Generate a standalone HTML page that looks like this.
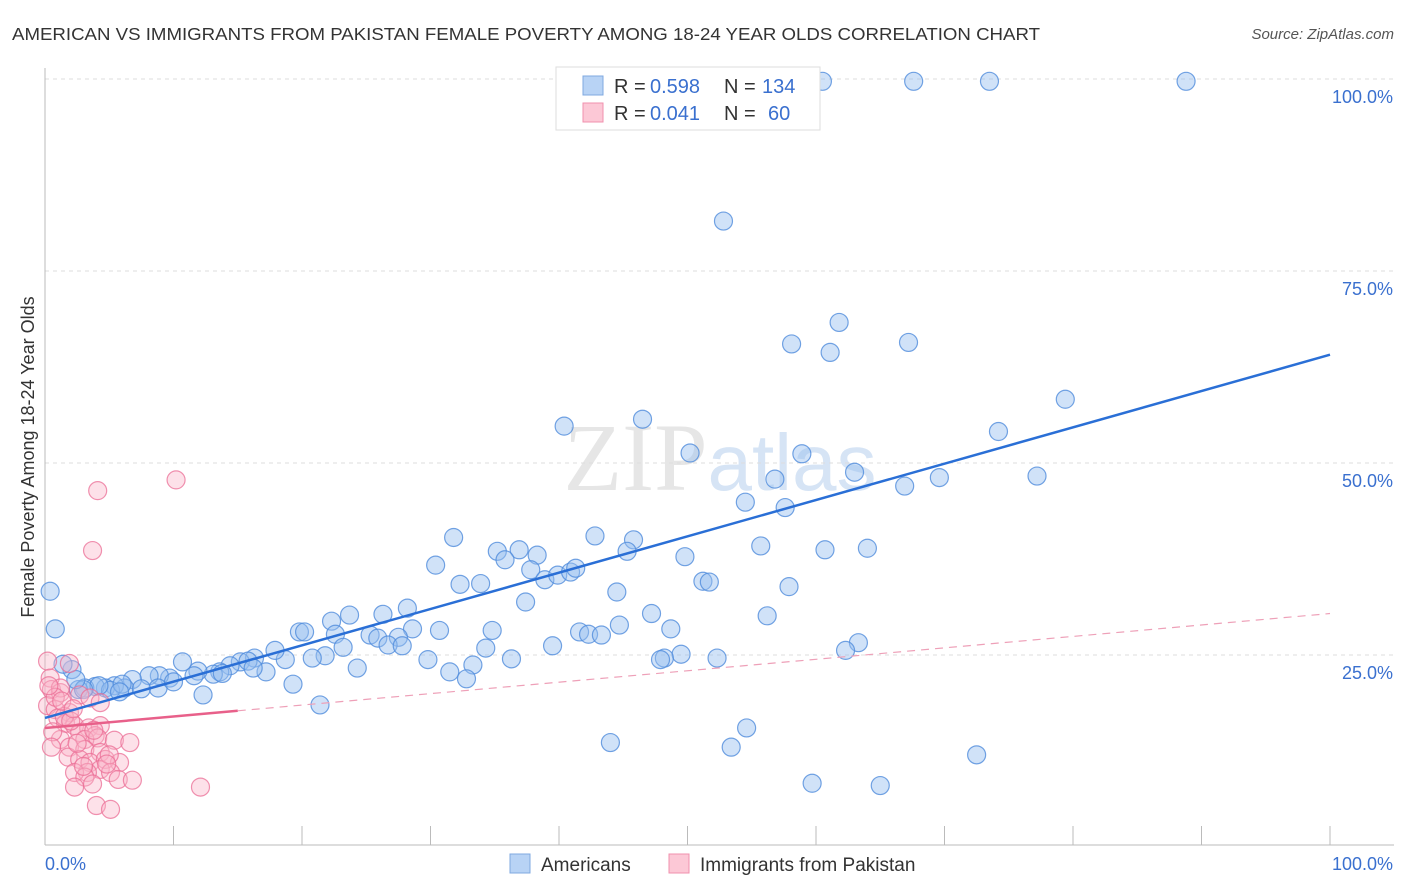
<!DOCTYPE html>
<html><head><meta charset="utf-8"><style>
body{margin:0;background:#fff;font-family:"Liberation Sans",sans-serif}
</style></head><body>
<svg id="chart" width="1406" height="892" xmlns="http://www.w3.org/2000/svg" style="display:block;font-family:'Liberation Sans',sans-serif">
<text x="12" y="40" font-size="17.5" fill="#333" textLength="1028" lengthAdjust="spacingAndGlyphs">AMERICAN VS IMMIGRANTS FROM PAKISTAN FEMALE POVERTY AMONG 18-24 YEAR OLDS CORRELATION CHART</text>
<text x="1394" y="39" font-size="15" fill="#555" font-style="italic" text-anchor="end">Source: ZipAtlas.com</text>
<text x="720" y="490" font-size="96" fill="#e6e6e6" text-anchor="middle" font-family="Liberation Serif">ZIP<tspan fill="#d6e4f5" font-family="Liberation Sans" font-size="80">atlas</tspan></text>
<g id="grid"></g><g id="axes"></g><g id="pts"></g><g id="lines"></g>
<text transform="translate(34,457) rotate(-90)" font-size="18" fill="#333" text-anchor="middle">Female Poverty Among 18-24 Year Olds</text>
<g>
<rect x="556" y="67" width="264" height="63" fill="#fff" stroke="#ddd"/>
<rect x="583" y="76" width="20" height="19" fill="#b8d3f5" stroke="#7fa8e0"/>
<rect x="583" y="103" width="20" height="19" fill="#fcc8d6" stroke="#f090ae"/>
<text x="614" y="93" font-size="20" fill="#333">R =</text><text x="650" y="93" font-size="20" fill="#3a70cf">0.598</text>
<text x="724" y="93" font-size="20" fill="#333">N =</text><text x="762" y="93" font-size="20" fill="#3a70cf">134</text>
<text x="614" y="120" font-size="20" fill="#333">R =</text><text x="650" y="120" font-size="20" fill="#3a70cf">0.041</text>
<text x="724" y="120" font-size="20" fill="#333">N =</text><text x="768" y="120" font-size="20" fill="#3a70cf">60</text>
</g>
<g>
<rect x="510" y="854" width="20" height="19" fill="#b8d3f5" stroke="#7fa8e0"/>
<text x="541" y="871" font-size="19" fill="#333">Americans</text>
<rect x="669" y="854" width="20" height="19" fill="#fcc8d6" stroke="#f090ae"/>
<text x="700" y="871" font-size="19" fill="#333">Immigrants from Pakistan</text>
</g>
</svg>
<script>
const yTicks=[25,50,75,100];
const yTickLabels=["25.0%","50.0%","75.0%","100.0%"];
const blueX=[60.5,67.6,73.5,88.8,52.8,61.8,58.1,61.1,67.2,79.4,74.2,40.4,46.5,50.2,58.9,56.8,63.0,66.9,69.6,77.2,54.5,57.6,31.8,42.8,45.8,35.2,36.9,38.3,45.3,49.8,55.7,60.7,64.0,30.4,35.8,37.8,38.9,39.9,40.9,41.3,32.3,33.9,51.2,51.7,57.9,44.5,37.4,28.2,26.3,23.7,22.3,47.2,56.2,44.7,48.7,34.8,30.7,28.6,19.8,20.2,22.6,25.3,25.9,27.5,26.7,27.8,41.6,42.3,43.3,39.5,34.3,63.3,62.3,49.5,48.2,47.9,52.3,36.3,29.8,33.3,31.5,32.8,24.3,23.2,21.8,20.8,18.7,17.9,16.3,15.2,14.4,15.8,17.2,16.2,13.6,13.1,11.9,10.7,11.6,9.7,8.9,8.1,6.8,8.8,6.2,5.4,4.7,3.9,3.1,2.6,2.1,1.4,12.3,19.3,21.4,0.8,0.4,44.0,54.6,53.4,72.5,59.7,65.0,13.8,5.1,4.2,3.0,6.0,7.5,10.0,2.4,5.8];
const blueY=[99.7,99.7,99.7,99.7,81.5,68.3,65.5,64.4,65.7,58.3,54.1,54.8,55.7,51.3,51.2,47.9,48.8,47.0,48.1,48.3,44.9,44.2,40.3,40.5,40.0,38.5,38.7,38.0,38.5,37.8,39.2,38.7,38.9,36.7,37.4,36.1,34.8,35.4,35.8,36.3,34.2,34.3,34.6,34.5,33.9,33.2,31.9,31.1,30.3,30.2,29.4,30.4,30.1,28.9,28.4,28.2,28.2,28.4,28.0,28.0,27.7,27.6,27.2,27.3,26.3,26.2,28.0,27.7,27.6,26.2,25.9,26.6,25.6,25.1,24.6,24.4,24.6,24.5,24.4,23.7,22.8,21.9,23.3,26.0,24.9,24.6,24.4,25.6,24.6,24.1,23.6,24.2,22.8,23.3,22.8,22.5,22.9,24.1,22.3,22.0,22.3,22.3,21.8,20.7,20.7,21.0,20.7,20.9,20.7,20.5,23.1,23.8,19.8,21.2,18.5,28.4,33.3,13.6,15.5,13.0,12.0,8.3,8.0,22.6,20.4,21.0,20.5,21.2,20.6,21.5,21.8,20.2];
const pinkX=[4.1,10.2,3.7,0.2,1.9,0.4,0.5,1.2,2.7,0.2,0.8,1.9,1.0,1.6,2.3,3.4,4.3,2.7,3.9,1.2,3.1,4.1,5.4,1.9,3.1,4.3,1.8,2.7,3.5,4.7,5.8,4.3,3.3,5.1,2.3,3.1,5.7,6.8,2.3,3.7,4.0,5.1,12.1,6.6,1.2,3.5,4.3,0.8,0.3,1.5,2.0,5.0,3.0,0.6,2.5,4.8,1.3,3.8,0.5,2.2];
const pinkY=[46.4,47.8,38.6,24.2,23.9,22.0,20.5,20.1,19.8,18.4,17.9,17.5,16.8,16.1,15.8,15.5,15.8,14.9,14.5,14.0,14.0,14.2,13.9,13.0,12.7,12.3,11.7,11.4,11.0,11.4,11.0,10.1,9.7,9.7,9.7,9.1,8.8,8.7,7.8,8.2,5.4,4.9,7.8,13.6,20.7,19.4,18.8,19.5,21.0,17.0,16.4,12.0,10.5,15.0,13.5,10.8,19.0,15.2,13.0,18.0];
const blueTrend=[16.8,64.1];
const pinkTrend=[15.5,30.4];
const pinkSolidEnd=15;
const NS="http://www.w3.org/2000/svg";
const X0=45,X1=1330,Y0=847,Y100=79;
const sx=v=>X0+(X1-X0)*v/100, sy=v=>Y0-(Y0-Y100)*v/100;
function mk(t,a,p){const e=document.createElementNS(NS,t);for(const k in a)e.setAttribute(k,a[k]);document.getElementById(p).appendChild(e);return e;}
yTicks.forEach((t,i)=>{
 const g=mk('line',{x1:45,x2:1394,y1:sy(t),y2:sy(t),stroke:'#ddd','stroke-dasharray':'4,4'},'grid');
 
 
 const l=mk('text',{x:1393,y:sy(t)+24,'font-size':18,fill:'#3a70cf','text-anchor':'end'},'axes');
 l.textContent=yTickLabels[i];
 
 
});
let a=mk('line',{x1:45,x2:45,y1:68,y2:845,stroke:'#bbb'},'axes');


a=mk('line',{x1:45,x2:1394,y1:845,y2:845,stroke:'#bbb'},'axes');


for(let i=1;i<=10;i++){const t=mk('line',{x1:sx(i*10),x2:sx(i*10),y1:826,y2:845,stroke:'#bbb'},'axes');
 
 }
let xl=mk('text',{x:45,y:870,'font-size':18,fill:'#3a70cf'},'axes');xl.textContent='0.0%';


xl=mk('text',{x:1393,y:870,'font-size':18,fill:'#3a70cf','text-anchor':'end'},'axes');xl.textContent='100.0%';


blueX.forEach((x,i)=>{const c=mk('circle',{cx:sx(x),cy:sy(blueY[i]),r:9,fill:'rgba(150,190,240,0.45)',stroke:'rgba(80,140,220,0.8)','stroke-width':1.2},'pts');
 
 });
pinkX.forEach((x,i)=>{const c=mk('circle',{cx:sx(x),cy:sy(pinkY[i]),r:9,fill:'rgba(250,180,200,0.4)',stroke:'rgba(235,110,150,0.75)','stroke-width':1.2},'pts');
 
 });
let ln=mk('line',{x1:sx(0),y1:sy(blueTrend[0]),x2:sx(100),y2:sy(blueTrend[1]),stroke:'#2a6fd6','stroke-width':2.5},'lines');


const pAt=v=>pinkTrend[0]+(pinkTrend[1]-pinkTrend[0])*v/100;
ln=mk('line',{x1:sx(0),y1:sy(pinkTrend[0]),x2:sx(pinkSolidEnd),y2:sy(pAt(pinkSolidEnd)),stroke:'#e8608a','stroke-width':2.5},'lines');


ln=mk('line',{x1:sx(pinkSolidEnd),y1:sy(pAt(pinkSolidEnd)),x2:sx(100),y2:sy(pinkTrend[1]),stroke:'#eea0b8','stroke-width':1.2,'stroke-dasharray':'8,6'},'lines');


</script>
</body></html>
